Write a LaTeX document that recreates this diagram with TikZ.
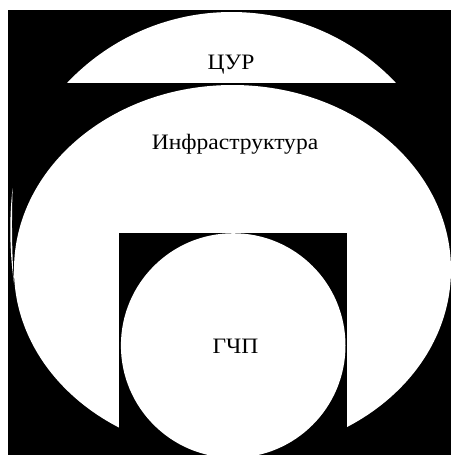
\documentclass[tikz,border=0pt]{standalone}
\usepackage{fontspec}
\setmainfont{Liberation Serif}
\newcommand{\wid}[1]{\scalebox{1.07}[1]{#1}}
\begin{document}
\begin{tikzpicture}[x=1pt,y=-1pt,
  lbl/.style={font=\fontsize{22}{24}\selectfont, text=black, inner sep=0pt, anchor=base}]
\useasboundingbox (0,0) rectangle (451,455);
\fill[white] (0,0) rectangle (451,455);
\fill[black] (8,10) rectangle (451,455);
% top segment (ЦУР)
\begin{scope}
  \clip (8,10) rectangle (451,82);
  \fill[white] (231.5,238) circle[radius=226pt];
\end{scope}
% big ellipse (Инфраструктура)
\begin{scope}
  \clip (8,10) rectangle (451,455);
  \fill[white] (232.5,269.7) ellipse[x radius=218.5pt, y radius=184.7pt];
\end{scope}
% thin sliver at the left
\fill[white] (12.7,188) .. controls (9.3,215) and (9.3,250) .. (14,283)
  .. controls (11.6,250) and (11.6,215) .. (12.7,188) -- cycle;
% black rectangle
\fill[black] (119,233) rectangle (346.7,455);
% inner circle (ГЧП)
\begin{scope}
  \clip (8,10) rectangle (451,455);
  \fill[white] (233.2,345.5) circle[radius=112.3pt];
\end{scope}
\node[lbl] (cur) at (231,69) {\wid{ЦУР}};
\node[lbl] (infra) at (235,149.5) {\wid{Инфраструктура}};
\node[lbl] (gchp) at (235.5,353) {\wid{ГЧП}};
\end{tikzpicture}
\end{document}
